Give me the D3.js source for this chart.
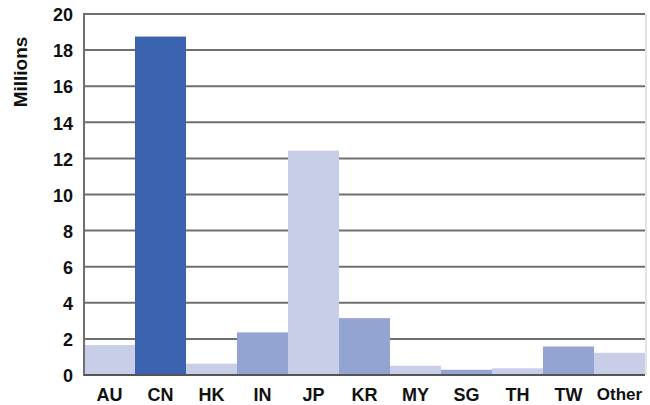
<!DOCTYPE html>
<html>
<head>
<meta charset="utf-8">
<script src="https://cdn.jsdelivr.net/npm/d3@7"></script>
<style>
  html, body { margin: 0; padding: 0; background: #fff; }
  svg { display: block; font-family: "Liberation Sans", Arial, sans-serif; }
</style>
</head>
<body>
<svg id="chart" width="650" height="405"></svg>
<script>
const categories = ["AU", "CN", "HK", "IN", "JP", "KR", "MY", "SG", "TH", "TW", "Other"];
const values = [1.66, 18.75, 0.63, 2.36, 12.43, 3.15, 0.51, 0.29, 0.37, 1.58, 1.23];
const shades = ["light", "dark", "light", "medium", "light", "medium", "light", "medium", "light", "medium", "light"];
const yTicks = [0, 2, 4, 6, 8, 10, 12, 14, 16, 18, 20];
const yLabel = "Millions";

const palette = { dark: "#3A62AE", medium: "#93A3D2", light: "#C8CEE8" };

const svg = d3.select("#chart");
const pLeft = 84, pRight = 645, pTop = 14, pBottom = 375;

const x = d3.scaleBand().domain(categories).range([pLeft, pRight]).padding(0);
const y = d3.scaleLinear().domain([0, 20]).range([pBottom, pTop]);

// gridlines
svg.append("g")
  .selectAll("line")
  .data(yTicks.filter(d => d > 0))
  .join("line")
  .attr("x1", pLeft).attr("x2", pRight)
  .attr("y1", d => y(d)).attr("y2", d => y(d))
  .attr("stroke", "#6f6f6f").attr("stroke-width", 2);

// right faint border
svg.append("line")
  .attr("x1", pRight + 1).attr("x2", pRight + 1)
  .attr("y1", pTop).attr("y2", pBottom)
  .attr("stroke", "#e4e4e4").attr("stroke-width", 2);

// bars
svg.append("g")
  .selectAll("rect")
  .data(categories.map((c, i) => ({ c, v: values[i], s: shades[i] })))
  .join("rect")
  .attr("x", d => x(d.c))
  .attr("width", x.bandwidth())
  .attr("y", d => y(d.v))
  .attr("height", d => y(0) - y(d.v))
  .attr("fill", d => palette[d.s]);

// left axis line and baseline
svg.append("line")
  .attr("x1", pLeft).attr("x2", pLeft)
  .attr("y1", pTop - 1).attr("y2", pBottom + 1)
  .attr("stroke", "#6f6f6f").attr("stroke-width", 2);
svg.append("line")
  .attr("x1", pLeft).attr("x2", pRight)
  .attr("y1", pBottom).attr("y2", pBottom)
  .attr("stroke", "#555").attr("stroke-width", 2);

// y tick labels
const yAxis = d3.axisLeft(y).tickValues(yTicks).tickSize(0).tickPadding(11).tickFormat(d3.format("d"));
const gy = svg.append("g").attr("transform", `translate(${pLeft},1)`).call(yAxis);
gy.select(".domain").remove();
gy.selectAll("text")
  .attr("font-size", 18).attr("font-weight", "bold").attr("fill", "#111")
  .attr("font-family", "Liberation Sans, Arial, sans-serif");

// x labels
const xAxis = d3.axisBottom(x).tickSize(0).tickPadding(13);
const gx = svg.append("g").attr("transform", `translate(0,${pBottom})`).call(xAxis);
gx.select(".domain").remove();
gx.selectAll("text")
  .attr("font-size", 18).attr("font-weight", "bold").attr("fill", "#111")
  .attr("font-family", "Liberation Sans, Arial, sans-serif");
gx.selectAll(".tick").filter(d => d === "Other").select("text").attr("font-size", 17);

// y label
svg.append("text")
  .attr("transform", "translate(27,72) rotate(-90)")
  .attr("text-anchor", "middle")
  .attr("font-size", 19).attr("font-weight", "bold").attr("fill", "#111")
  .text(yLabel);
</script>
</body>
</html>
